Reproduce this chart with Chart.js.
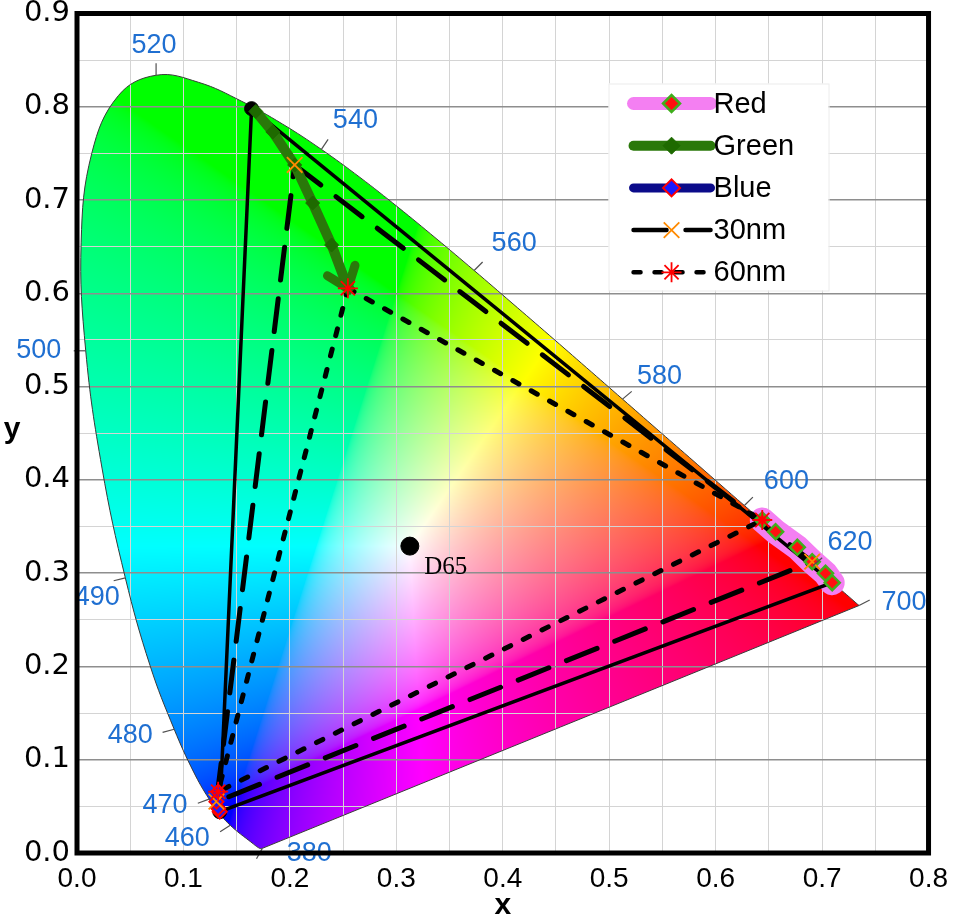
<!DOCTYPE html>
<html lang="en">
<head>
<meta charset="UTF-8">
<title>CIE 1931 chromaticity</title>
<style>
  html, body { margin: 0; padding: 0; background: #fff; }
  #cie { display: block; }
</style>
<script src="https://cdn.jsdelivr.net/npm/chart.js@4.4.1/dist/chart.umd.min.js"></script>
</head>
<body>
<canvas id="cie" width="957" height="924"></canvas>
<script>
// spectral locus, CIE 1931 2 deg observer
var locusNm = [380, 385, 390, 395, 400, 405, 410, 415, 420, 425, 430, 435, 440, 445, 450, 455,
  460, 465, 470, 475, 480, 485, 490, 495, 500, 505, 510, 515, 520, 525, 530, 535, 540, 545,
  550, 555, 560, 565, 570, 575, 580, 585, 590, 595, 600, 605, 610, 615, 620, 625, 630, 635,
  640, 645, 650, 660, 670, 680, 700];
var locusX = [0.1741, 0.1740, 0.1738, 0.1736, 0.1733, 0.1730, 0.1726, 0.1721, 0.1714, 0.1703,
  0.1689, 0.1669, 0.1644, 0.1611, 0.1566, 0.1510, 0.1440, 0.1355, 0.1241, 0.1096, 0.0913,
  0.0687, 0.0454, 0.0235, 0.0082, 0.0039, 0.0139, 0.0389, 0.0743, 0.1142, 0.1547, 0.1929,
  0.2296, 0.2658, 0.3016, 0.3373, 0.3731, 0.4087, 0.4441, 0.4788, 0.5125, 0.5448, 0.5752,
  0.6029, 0.6270, 0.6482, 0.6658, 0.6801, 0.6915, 0.7006, 0.7079, 0.7140, 0.7190, 0.7230,
  0.7260, 0.7300, 0.7320, 0.7334, 0.7347];
var locusY = [0.0050, 0.0050, 0.0049, 0.0049, 0.0048, 0.0048, 0.0048, 0.0048, 0.0051, 0.0058,
  0.0069, 0.0086, 0.0109, 0.0138, 0.0177, 0.0227, 0.0297, 0.0399, 0.0578, 0.0868, 0.1327,
  0.2007, 0.2950, 0.4127, 0.5384, 0.6548, 0.7502, 0.8120, 0.8338, 0.8262, 0.8059, 0.7816,
  0.7543, 0.7243, 0.6923, 0.6589, 0.6245, 0.5896, 0.5547, 0.5202, 0.4866, 0.4544, 0.4242,
  0.3965, 0.3725, 0.3514, 0.3340, 0.3197, 0.3083, 0.2993, 0.2920, 0.2859, 0.2809, 0.2770,
  0.2740, 0.2700, 0.2680, 0.2666, 0.2653];

// wavelengths marked on the locus
var markedNm = [380, 460, 470, 480, 490, 500, 520, 540, 560, 580, 600, 620, 700];

// primaries traced as the emitter shifts
var redX = [0.7095, 0.7032, 0.6907, 0.6767, 0.6563, 0.6438];
var redY = [0.2898, 0.2998, 0.3123, 0.3277, 0.3445, 0.3570];
var greenX = [0.168, 0.184, 0.2045, 0.2214, 0.2392, 0.2545];
var greenY = [0.795, 0.773, 0.7376, 0.6968, 0.6518, 0.6054];
var blueX = [0.1341, 0.1326, 0.1310, 0.1326];
var blueY = [0.0443, 0.0479, 0.0550, 0.0657];

// gamut triangles, corners G, R, B
var tri0X = [0.164, 0.7095, 0.1341];
var tri0Y = [0.798, 0.2898, 0.0443];
var tri30X = [0.2045, 0.6907, 0.1310];
var tri30Y = [0.7376, 0.3123, 0.0550];
var tri60X = [0.2545, 0.6438, 0.1326];
var tri60Y = [0.6054, 0.3570, 0.0657];

var d65X = [0.3127];
var d65Y = [0.3290];

function pts(xs, ys) {
  return xs.map(function (v, i) { return { x: v, y: ys[i] }; });
}
function closed(xs, ys) {
  var p = pts(xs, ys);
  p.push(p[0]);
  return p;
}

var SANS = "'Liberation Sans', Arial, sans-serif";
var last = locusNm.length - 1;

var dsLocus = { data: pts(locusX, locusY), showLine: true, tension: 0.4, borderColor: '#3a3a3a',
  borderWidth: 1, pointRadius: 0, order: 21 };
var dsPurple = { data: [{ x: locusX[last], y: locusY[last] }, { x: locusX[0], y: locusY[0] }],
  showLine: true, borderColor: '#3a3a3a', borderWidth: 1, pointRadius: 0, order: 20 };
var dsRedBand = { data: pts(redX, redY), showLine: true, borderColor: '#f47ff2', borderWidth: 25,
  borderCapStyle: 'round', pointRadius: 0, order: 19 };
var dsTri0 = { data: closed(tri0X, tri0Y), showLine: true, borderColor: '#000', borderWidth: 3.5,
  pointRadius: 0, order: 18 };
var dsTri30 = { data: closed(tri30X, tri30Y), showLine: true, borderColor: '#000', borderWidth: 5,
  borderDash: [33, 19], borderCapStyle: 'round', pointRadius: 0, order: 17 };
var dsTri60 = { data: closed(tri60X, tri60Y), showLine: true, borderColor: '#000', borderWidth: 5,
  borderDash: [7, 14], borderCapStyle: 'round', pointRadius: 0, order: 16 };
var dsDots = { data: [{ x: tri0X[0], y: tri0Y[0] }, { x: tri0X[2], y: tri0Y[2] }], pointRadius: 7,
  pointStyle: 'circle', pointBackgroundColor: '#000', pointBorderColor: '#000', order: 15 };
var dsBlue = { data: pts(blueX, blueY), showLine: true, borderColor: '#0b0b8a', borderWidth: 9,
  borderCapStyle: 'round', pointStyle: 'rectRot', pointRadius: 7, pointBackgroundColor: '#1a1aff',
  pointBorderColor: '#ff0000', pointBorderWidth: 2, order: 14 };
var dsGreen = { data: pts(greenX, greenY), showLine: true, borderColor: '#2a780a', borderWidth: 10,
  borderCapStyle: 'round', pointStyle: 'rectRot', pointRadius: 7, pointBackgroundColor: '#1e6a00',
  pointBorderColor: '#1e6a00', pointBorderWidth: 1, order: 13 };
var dsRedMarks = { data: pts(redX, redY), pointStyle: 'rectRot', pointRadius: 7.5,
  pointBackgroundColor: '#ff1010', pointBorderColor: '#3fae1c', pointBorderWidth: 2.5, order: 12 };
var dsD65 = { data: pts(d65X, d65Y), pointStyle: 'circle', pointRadius: 9,
  pointBackgroundColor: '#000', pointBorderColor: '#000', order: 11 };
var dsMark30 = { data: pts(tri30X, tri30Y), pointStyle: 'crossRot', pointRadius: 11,
  pointBorderColor: '#ff8a00', pointBorderWidth: 1.8, order: 10 };
var dsMark60 = { data: pts(tri60X, tri60Y), pointStyle: 'star', pointRadius: 10,
  pointBorderColor: '#ff0000', pointBorderWidth: 1.8, order: 9 };

var legendRows = [
  { text: 'Red', line: dsRedBand, width: 13, mark: dsRedMarks, r: 8.5 },
  { text: 'Green', line: dsGreen, width: 10, mark: dsGreen, r: 8.5 },
  { text: 'Blue', line: dsBlue, width: 9, mark: dsBlue, r: 8.5 },
  { text: '30nm', line: dsTri30, width: 4.5, mark: dsMark30, r: 11 },
  { text: '60nm', line: dsTri60, width: 4.5, mark: dsMark60, r: 10 }
];

// label placement around the locus: text offset and tick direction (deg)
var nmLayout = {
  380: { dx: 47, dy: 5, a: 119 },
  460: { dx: -43, dy: 13, a: 148 },
  470: { dx: -44, dy: 6, a: 160 },
  480: { dx: -44, dy: 6, a: 165 },
  490: { dx: -28, dy: 20, a: 166 },
  500: { dx: -47, dy: 0, a: 180 },
  520: { dx: -2, dy: -30, a: -90 },
  540: { dx: 34, dy: -29, a: -56 },
  560: { dx: 40, dy: -27, a: -45 },
  580: { dx: 37, dy: -23, a: -40 },
  600: { dx: 42, dy: -24, a: -45 },
  620: { dx: 37, dy: -23, a: -40 },
  700: { dx: 45, dy: -3, a: -27 }
};

function gammaC(c) {
  c = Math.max(0, Math.min(1, c));
  return c <= 0.0031308 ? 12.92 * c : 1.055 * Math.pow(c, 1 / 2.4) - 0.055;
}

var gamutCache = null;
function gamutImage(chart) {
  var a = chart.chartArea, xs = chart.scales.x, ys = chart.scales.y;
  var w = Math.ceil(a.right - a.left), h = Math.ceil(a.bottom - a.top);
  var key = a.left + ':' + a.top + ':' + w + ':' + h;
  if (gamutCache && gamutCache.key === key) return gamutCache.canvas;
  var off = document.createElement('canvas');
  off.width = w; off.height = h;
  var octx = off.getContext('2d');
  var img = octx.createImageData(w, h);
  var colX = [], rowY = [];
  for (var i = 0; i < w; i++) colX.push(xs.getValueForPixel(a.left + i + 0.5));
  for (var j = 0; j < h; j++) rowY.push(ys.getValueForPixel(a.top + j + 0.5));
  for (j = 0; j < h; j++) {
    var y = rowY[j];
    if (y < 0.002) continue;
    for (i = 0; i < w; i++) {
      var x = colX[i];
      var X = x / y, Z = (1 - x - y) / y;
      var r = Math.max(0, 3.2406 * X - 1.5372 - 0.4986 * Z);
      var g = Math.max(0, -0.9689 * X + 1.8758 + 0.0415 * Z);
      var b = Math.max(0, 0.0557 * X - 0.2040 + 1.0570 * Z);
      var m = Math.max(r, g, b) || 1;
      var p = (j * w + i) * 4;
      img.data[p] = Math.round(255 * gammaC(r / m));
      img.data[p + 1] = Math.round(255 * gammaC(g / m));
      img.data[p + 2] = Math.round(255 * gammaC(b / m));
      img.data[p + 3] = 255;
    }
  }
  octx.putImageData(img, 0, 0);
  gamutCache = { key: key, canvas: off };
  return off;
}

// outline of the horseshoe, following the same smoothed curve as the locus line
function locusPath(chart, ctx) {
  var xs = chart.scales.x, ys = chart.scales.y;
  ctx.beginPath();
  try {
    var line = chart.getDatasetMeta(0).dataset;
    line.updateControlPoints(chart.chartArea, 'x');
    line.path(ctx);
  } catch (e) {
    for (var k = 0; k < locusNm.length; k++) {
      var px = xs.getPixelForValue(locusX[k]), py = ys.getPixelForValue(locusY[k]);
      if (k === 0) ctx.moveTo(px, py); else ctx.lineTo(px, py);
    }
  }
  ctx.closePath();
}

var cieDecor = {
  id: 'cieDecor',
  beforeDraw: function (chart) {
    var ctx = chart.ctx, a = chart.chartArea;
    var img = gamutImage(chart);
    ctx.save();
    locusPath(chart, ctx);
    ctx.clip();
    ctx.drawImage(img, a.left, a.top);
    ctx.restore();
  },
  afterDatasetDraw: function (chart, args) {
    // arrow head at the end of the green trace
    if (chart.data.datasets[args.index] !== dsGreen) return;
    var el = args.meta.data, n = el.length;
    var tip = el[n - 1], prev = el[n - 2];
    var ang = Math.atan2(prev.y - tip.y, prev.x - tip.x);
    var ctx = chart.ctx;
    ctx.save();
    ctx.strokeStyle = dsGreen.borderColor;
    ctx.lineWidth = 9;
    ctx.lineCap = 'round';
    ctx.beginPath();
    ctx.moveTo(tip.x + 24 * Math.cos(ang - 0.66), tip.y + 24 * Math.sin(ang - 0.66));
    ctx.lineTo(tip.x, tip.y);
    ctx.lineTo(tip.x + 24 * Math.cos(ang + 0.66), tip.y + 24 * Math.sin(ang + 0.66));
    ctx.stroke();
    ctx.restore();
  },
  afterDatasetsDraw: function (chart) {
    var ctx = chart.ctx, a = chart.chartArea, xs = chart.scales.x, ys = chart.scales.y;
    ctx.save();
    // wavelength ticks and labels
    ctx.font = '27px ' + SANS;
    ctx.textAlign = 'center';
    ctx.textBaseline = 'middle';
    markedNm.forEach(function (nm) {
      var k = locusNm.indexOf(nm), L = nmLayout[nm];
      var px = xs.getPixelForValue(locusX[k]), py = ys.getPixelForValue(locusY[k]);
      var t = L.a * Math.PI / 180;
      ctx.strokeStyle = '#505050';
      ctx.lineWidth = 1.2;
      ctx.beginPath();
      ctx.moveTo(px, py);
      ctx.lineTo(px + 12 * Math.cos(t), py + 12 * Math.sin(t));
      ctx.stroke();
      ctx.fillStyle = '#1f6fd1';
      ctx.fillText(String(nm), px + L.dx, py + L.dy);
    });

    // white point label
    ctx.font = '25px "Liberation Serif", "Times New Roman", serif';
    ctx.fillStyle = '#000';
    ctx.fillText('D65', xs.getPixelForValue(d65X[0]) + 36, ys.getPixelForValue(d65Y[0]) + 21);

    // legend box
    var lx = a.right - 320, ly = a.top + 70;
    ctx.fillStyle = '#fff';
    ctx.fillRect(lx, ly, 220, 207);
    ctx.strokeStyle = '#ececec';
    ctx.lineWidth = 1;
    ctx.strokeRect(lx + 0.5, ly + 0.5, 220, 207);
    legendRows.forEach(function (row, i) {
      var y = ly + 20 + i * 42.2;
      var x1 = lx + 25, x2 = lx + 102, xm = lx + 63;
      var d = row.line;
      ctx.setLineDash(d.borderDash || []);
      ctx.lineCap = d.borderCapStyle || 'butt';
      ctx.strokeStyle = d.borderColor;
      ctx.lineWidth = row.width;
      ctx.beginPath();
      ctx.moveTo(x1, y);
      ctx.lineTo(x2, y);
      ctx.stroke();
      ctx.setLineDash([]);
      ctx.lineCap = 'butt';
      var m = row.mark;
      ctx.fillStyle = m.pointBackgroundColor || 'transparent';
      ctx.strokeStyle = m.pointBorderColor;
      ctx.lineWidth = m.pointBorderWidth;
      Chart.helpers.drawPoint(ctx, { pointStyle: m.pointStyle, radius: row.r, rotation: 0,
        borderWidth: m.pointBorderWidth }, xm, y);
      ctx.fillStyle = '#000';
      ctx.font = '29px ' + SANS;
      ctx.textAlign = 'left';
      ctx.fillText(row.text, lx + 105, y + 1);
    });

    // y axis name, upright
    ctx.font = 'bold 30px ' + SANS;
    ctx.textAlign = 'center';
    ctx.fillStyle = '#000';
    ctx.fillText('y', 12, 430);
    ctx.restore();
  },
  afterDraw: function (chart) {
    var ctx = chart.ctx, a = chart.chartArea;
    ctx.save();
    ctx.strokeStyle = '#000';
    ctx.lineWidth = 5;
    ctx.strokeRect(a.left, a.top, a.right - a.left, a.bottom - a.top);
    ctx.restore();
  }
};

function tickText(v) {
  var k = Math.round(v * 100);
  return k % 10 === 0 ? (k / 100).toFixed(1) : '';
}
function isMajor(ctx) {
  return Math.round(ctx.tick.value * 100) % 10 === 0;
}

new Chart(document.getElementById('cie'), {
  type: 'scatter',
  data: {
    datasets: [dsLocus, dsPurple, dsRedBand, dsTri0, dsTri30, dsTri60, dsDots, dsBlue, dsGreen,
      dsRedMarks, dsD65, dsMark30, dsMark60]
  },
  options: {
    responsive: false,
    animation: false,
    devicePixelRatio: 1,
    layout: { padding: { top: 13.5, right: 27, left: 0, bottom: 0 } },
    plugins: { legend: { display: false }, tooltip: { enabled: false } },
    scales: {
      x: {
        type: 'linear', min: 0, max: 0.8,
        afterFit: function (s) { s.height = 71; },
        ticks: { stepSize: 0.05, autoSkip: false, maxRotation: 0, padding: 9, color: '#000',
          font: { family: SANS, size: 28 }, callback: tickText },
        grid: { color: '#d4d4d4', lineWidth: 1, drawTicks: false },
        border: { display: false },
        title: { display: true, text: 'x', color: '#000', font: { family: SANS, size: 30, weight: 'bold' },
          padding: { top: 0, bottom: 0 } }
      },
      y: {
        type: 'linear', min: 0, max: 0.9,
        afterFit: function (s) { s.width = 77; s.paddingTop = 0; s.paddingBottom = 0; },
        ticks: { stepSize: 0.05, autoSkip: false, padding: 7, color: '#000',
          font: { family: "'DejaVu Sans', sans-serif", size: 29 }, callback: tickText },
        grid: {
          color: function (c) { return isMajor(c) ? '#8e8e8e' : '#d4d4d4'; },
          lineWidth: function (c) { return isMajor(c) ? 1.6 : 1; },
          drawTicks: false
        },
        border: { display: false }
      }
    }
  },
  plugins: [cieDecor]
});
</script>
</body>
</html>
